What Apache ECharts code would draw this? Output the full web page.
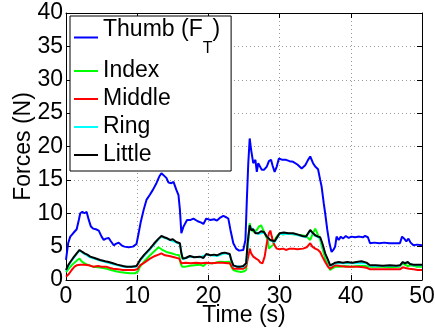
<!DOCTYPE html>
<html><head><meta charset="utf-8">
<script src="https://cdn.jsdelivr.net/npm/echarts@6/dist/echarts.min.js"></script>
<style>html,body{margin:0;padding:0;background:#fff}#c{width:435px;height:334px}</style>
</head><body><div id="c"></div>
<script>
const xMin = 0, xMax = 50, xStep = 10;
const yMin = 0, yMax = 40, yStep = 5;
const seriesNames = ['Thumb', 'Index', 'Middle', 'Ring', 'Little'];
const seriesColors = ['#0000ff', '#00ff00', '#ff0000', '#00ffff', '#000000'];

const thumb = [[0,3.0],[0.3,5.5],[0.6,6.5],[1.0,7.0],[1.5,7.6],[1.8,9.0],[2.0,10.0],[2.3,10.2],[2.6,10.0],[2.9,10.2],[3.2,9.0],[3.5,8.0],[3.8,7.7],[4.2,7.6],[4.6,7.4],[5.0,6.5],[5.3,6.0],[5.6,6.2],[6.0,6.3],[6.3,5.8],[6.7,5.2],[7.0,5.4],[7.4,5.6],[7.8,5.2],[8.2,5.0],[8.8,4.9],[9.4,5.0],[9.9,5.4],[10.2,7.0],[10.5,8.7],[10.9,10.5],[11.3,12.0],[11.8,12.8],[12.2,13.5],[12.7,14.5],[13.1,15.5],[13.4,16.0],[13.8,15.6],[14.1,15.3],[14.4,14.6],[14.8,14.5],[15.1,14.7],[15.5,13.5],[15.8,12.7],[16.0,10.5],[16.2,7.0],[16.5,8.0],[17.0,9.0],[17.5,9.0],[17.9,9.2],[18.5,8.8],[19.0,8.6],[19.3,8.4],[19.7,9.2],[20.3,9.0],[20.8,9.1],[21.2,8.9],[21.6,9.3],[22.1,9.6],[22.5,9.4],[22.8,9.2],[23.1,7.5],[23.5,5.5],[23.9,4.7],[24.3,4.4],[24.9,4.5],[25.2,6.0],[25.4,12.0],[25.6,17.5],[25.8,21.2],[26.0,19.5],[26.3,17.5],[26.6,18.0],[26.8,16.2],[27.0,17.5],[27.2,17.7],[27.5,16.5],[27.8,16.5],[28.2,17.0],[28.5,17.8],[28.8,18.0],[29.0,17.2],[29.3,16.2],[29.6,17.0],[29.9,18.2],[30.4,18.0],[30.9,18.0],[31.4,17.8],[31.9,17.7],[32.5,17.3],[33.1,16.7],[33.6,17.2],[34.0,18.0],[34.3,18.5],[34.7,17.5],[35.0,17.0],[35.4,16.6],[35.7,15.0],[35.9,14.0],[36.2,11.5],[36.4,10.0],[36.7,7.5],[37.0,5.5],[37.3,4.2],[37.6,4.6],[37.8,5.0],[38.0,6.5],[38.3,6.0],[38.6,6.5],[38.9,6.2],[39.3,6.6],[39.7,6.3],[40.1,6.5],[40.6,6.4],[41.2,6.5],[41.7,6.4],[42.0,6.6],[42.4,6.4],[42.7,5.5],[43.3,5.6],[44.0,5.5],[44.7,5.6],[45.4,5.5],[46.2,5.5],[46.9,5.5],[47.2,6.5],[47.5,6.2],[47.8,5.8],[48.1,6.2],[48.4,5.6],[48.8,5.2],[49.3,5.3],[50,5.2]];

const index = [[0,1.2],[0.4,1.7],[0.8,2.2],[1.2,2.6],[1.6,3.0],[1.9,3.2],[2.2,2.8],[2.6,2.5],[3.0,2.3],[3.8,2.0],[4.5,1.9],[5.2,1.8],[5.7,1.7],[6.3,1.5],[7.0,1.3],[7.5,1.2],[8.3,1.1],[9.0,1.0],[9.7,1.0],[10.1,1.3],[10.4,2.0],[11.0,2.8],[11.8,3.7],[12.4,4.3],[13.0,4.9],[13.4,4.6],[14.1,4.2],[14.8,4.0],[15.4,3.8],[15.9,3.7],[16.1,2.5],[16.3,2.0],[16.8,2.0],[17.2,2.1],[18.0,2.2],[18.8,2.3],[19.3,2.1],[19.7,2.5],[20.5,2.5],[21.0,2.6],[21.6,2.75],[22.3,2.7],[23.0,2.75],[23.2,2.0],[23.5,1.5],[24.0,1.3],[24.6,1.2],[25.0,1.3],[25.3,1.5],[25.5,5.0],[25.8,8.5],[26.0,7.5],[26.4,7.2],[26.8,7.5],[27.1,8.0],[27.4,8.2],[27.7,7.5],[28.0,6.8],[28.3,6.0],[28.5,4.7],[28.8,5.0],[29.1,5.3],[29.3,6.0],[29.6,6.5],[30.0,7.0],[30.5,6.8],[31.0,7.0],[31.6,6.9],[32.2,6.8],[33.0,6.7],[33.7,6.6],[34.0,6.3],[34.3,6.0],[34.6,6.8],[35.0,7.7],[35.3,7.0],[35.7,6.0],[36.0,4.8],[36.4,3.2],[36.8,2.2],[37.1,1.5],[37.5,1.8],[37.9,2.0],[38.5,2.0],[39.2,2.1],[40.0,2.0],[41.0,2.1],[42.0,2.1],[42.7,2.0],[43.5,2.0],[44.5,2.0],[45.5,1.9],[46.5,2.0],[46.9,2.0],[47.3,2.5],[47.6,2.3],[48.0,2.1],[48.5,2.2],[49.2,2.0],[50,2.0]];

const middle = [[0,0.5],[0.4,0.9],[0.8,1.5],[1.2,2.0],[1.5,2.2],[2.0,2.3],[2.6,2.3],[3.2,2.2],[3.8,2.0],[4.5,2.1],[5.0,2.0],[5.6,2.0],[6.2,1.8],[6.6,1.7],[7.3,1.6],[8.0,1.5],[8.8,1.5],[9.6,1.5],[10.0,1.6],[10.4,2.2],[11.0,2.6],[11.8,3.2],[12.5,3.6],[13.0,3.8],[13.4,4.0],[13.9,3.7],[14.5,3.6],[15.2,3.4],[15.9,3.2],[16.2,2.5],[16.8,2.6],[17.5,2.5],[18.3,2.6],[19.0,2.5],[19.7,2.6],[20.5,2.5],[21.2,2.6],[22.0,2.6],[22.7,2.5],[23.0,2.5],[23.3,2.0],[23.5,1.7],[24.2,1.7],[24.9,1.7],[25.3,2.0],[25.6,3.5],[25.8,4.7],[26.0,4.0],[26.3,3.5],[26.7,3.2],[27.0,3.0],[27.3,2.6],[27.6,2.5],[27.9,3.5],[28.2,5.5],[28.5,7.0],[28.7,7.4],[28.9,6.5],[29.1,5.7],[29.3,5.2],[29.6,4.7],[30.0,4.6],[30.5,4.7],[30.9,4.5],[31.4,4.7],[31.9,4.7],[32.5,4.6],[33.3,4.7],[33.8,4.9],[34.3,5.5],[34.6,5.0],[35.0,4.7],[35.4,4.5],[35.7,4.2],[36.0,3.5],[36.4,2.7],[36.8,2.0],[37.1,1.7],[37.5,2.0],[37.8,2.2],[38.5,2.1],[39.3,2.0],[40.2,2.0],[41.0,2.0],[41.8,1.9],[42.3,1.8],[42.7,1.6],[43.5,1.6],[44.5,1.6],[45.5,1.6],[46.4,1.6],[46.9,1.6],[47.3,1.9],[47.7,1.8],[48.2,1.7],[48.8,1.6],[49.4,1.5],[50,1.5]];

const ring = [[0,1.4],[0.6,2.6],[1.5,3.9],[1.9,4.4],[2.6,3.9],[3.4,3.4],[4.8,2.9],[6.6,2.4],[8.0,2.0],[9.9,2.0],[10.4,2.9],[11.8,4.6],[13.0,6.1],[13.4,6.5],[14.1,6.2],[15.5,5.6],[16.0,5.4],[16.4,3.1],[17.4,3.5],[18.8,3.4],[19.7,3.8],[21.2,3.6],[22.3,4.0],[23.0,3.8],[23.5,2.1],[24.9,2.0],[25.3,2.4],[25.8,8.1],[26.3,7.5],[27.0,6.9],[27.8,7.1],[28.7,5.9],[29.3,5.7],[30.0,6.9],[31.9,6.9],[33.7,6.4],[34.3,7.4],[35.0,6.6],[35.7,6.3],[36.4,3.9],[37.1,2.1],[37.8,2.5],[40.2,2.5],[42.2,2.5],[42.7,2.1],[46.9,2.1],[47.3,2.6],[48.0,2.6],[48.8,2.2],[50,2.2]];

const little = [[0,1.5],[0.3,2.2],[0.6,2.7],[1.0,3.3],[1.5,4.0],[1.9,4.5],[2.3,4.2],[2.6,4.0],[3.0,3.8],[3.4,3.5],[4.0,3.3],[4.8,3.0],[5.5,2.8],[6.0,2.7],[6.6,2.5],[7.2,2.3],[8.0,2.1],[8.5,2.0],[9.2,2.0],[9.9,2.1],[10.4,3.0],[11.0,3.8],[11.8,4.7],[12.4,5.5],[13.0,6.2],[13.4,6.6],[13.8,6.4],[14.1,6.3],[14.6,6.0],[15.0,6.1],[15.5,5.7],[16.0,5.5],[16.2,4.0],[16.4,3.2],[16.8,3.3],[17.4,3.6],[18.0,3.4],[18.8,3.5],[19.3,3.3],[19.7,3.9],[20.3,3.7],[20.8,3.8],[21.2,3.7],[21.8,4.0],[22.3,4.1],[23.0,3.9],[23.2,3.0],[23.5,2.2],[24.0,2.0],[24.5,2.0],[24.9,2.1],[25.3,2.5],[25.5,5.5],[25.8,8.2],[26.0,7.5],[26.3,7.6],[26.6,7.0],[27.0,7.0],[27.4,7.3],[27.8,7.2],[28.2,6.5],[28.7,6.0],[29.3,5.8],[29.7,6.5],[30.0,7.0],[30.6,7.1],[31.2,7.0],[31.9,7.0],[32.6,6.8],[33.2,6.6],[33.7,6.5],[34.0,7.0],[34.3,7.5],[34.7,7.0],[35.0,6.7],[35.4,6.5],[35.7,6.4],[36.0,5.5],[36.4,4.0],[36.8,3.0],[37.1,2.2],[37.5,2.4],[37.8,2.6],[38.3,2.7],[38.9,2.6],[39.5,2.7],[40.2,2.6],[40.8,2.7],[41.5,2.8],[42.2,2.6],[42.7,2.2],[43.5,2.2],[44.5,2.15],[45.5,2.2],[46.4,2.15],[46.9,2.2],[47.3,2.7],[47.6,2.5],[48.0,2.7],[48.3,2.4],[48.8,2.3],[49.4,2.3],[50,2.3]];

const seriesData = [thumb, index, middle, ring, little];
const FONT = 'Liberation Sans';

const chart = echarts.init(document.getElementById('c'), null, {renderer: 'canvas'});
const tickStyle = {show: true, inside: true, length: 5, lineStyle: {color: '#000', width: 1}};
const axisLine = {show: true, onZero: false, lineStyle: {color: '#000', width: 1}};
chart.setOption({
  animation: false,
  backgroundColor: '#fff',
  grid: {left: 66, right: 13, top: 13, bottom: 54, containLabel: false, outerBoundsMode: 'none'},
  legend: {
    orient: 'vertical', left: 70, top: 16,
    padding: [2, 11, 2, 4], itemGap: 0, itemWidth: 24, itemHeight: 2,
    icon: 'rect',
    backgroundColor: '#fff', borderColor: '#000', borderWidth: 1,
    data: seriesNames,
    formatter: n => n === 'Thumb' ? '{a|Thumb (F}{s|T}{a|)}' : n,
    textStyle: {
      color: '#000', fontSize: 23, fontFamily: FONT, lineHeight: 28,
      rich: {
        a: {fontSize: 23, fontFamily: FONT, color: '#000', lineHeight: 28, verticalAlign: 'top'},
        s: {fontSize: 16, fontFamily: FONT, color: '#000', lineHeight: 39, verticalAlign: 'bottom'}
      }
    }
  },
  xAxis: [{
    type: 'value', min: xMin, max: xMax, interval: xStep, position: 'bottom',
    name: 'Time (s)', nameLocation: 'middle', nameGap: 24, nameMoveOverlap: false,
    nameTextStyle: {fontSize: 23, fontFamily: FONT, color: '#000'},
    axisLine: axisLine, axisTick: tickStyle,
    axisLabel: {fontSize: 23, fontFamily: FONT, color: '#000', margin: 5},
    splitLine: {show: true, lineStyle: {color: '#999', type: [1, 3], width: 1}}
  }, {
    type: 'value', min: xMin, max: xMax, interval: xStep, position: 'top',
    axisLine: axisLine, axisTick: tickStyle, axisLabel: {show: false}, splitLine: {show: false}
  }],
  yAxis: [{
    type: 'value', min: yMin, max: yMax, interval: yStep, position: 'left',
    name: 'Forces (N)', nameLocation: 'middle', nameGap: 31, nameMoveOverlap: false,
    nameTextStyle: {fontSize: 23, fontFamily: FONT, color: '#000'},
    axisLine: axisLine, axisTick: tickStyle,
    axisLabel: {fontSize: 23, fontFamily: FONT, color: '#000', margin: 3},
    splitLine: {show: true, lineStyle: {color: '#999', type: [1, 3], width: 1}}
  }, {
    type: 'value', min: yMin, max: yMax, interval: yStep, position: 'right',
    axisLine: axisLine, axisTick: tickStyle, axisLabel: {show: false}, splitLine: {show: false}
  }],
  series: seriesNames.map((n, i) => ({
    name: n, type: 'line', data: seriesData[i], xAxisIndex: 0, yAxisIndex: 0,
    symbol: 'none', showSymbol: false,
    lineStyle: {color: seriesColors[i], width: 2},
    itemStyle: {color: seriesColors[i]},
    z: 2 + i
  }))
});
</script></body></html>
